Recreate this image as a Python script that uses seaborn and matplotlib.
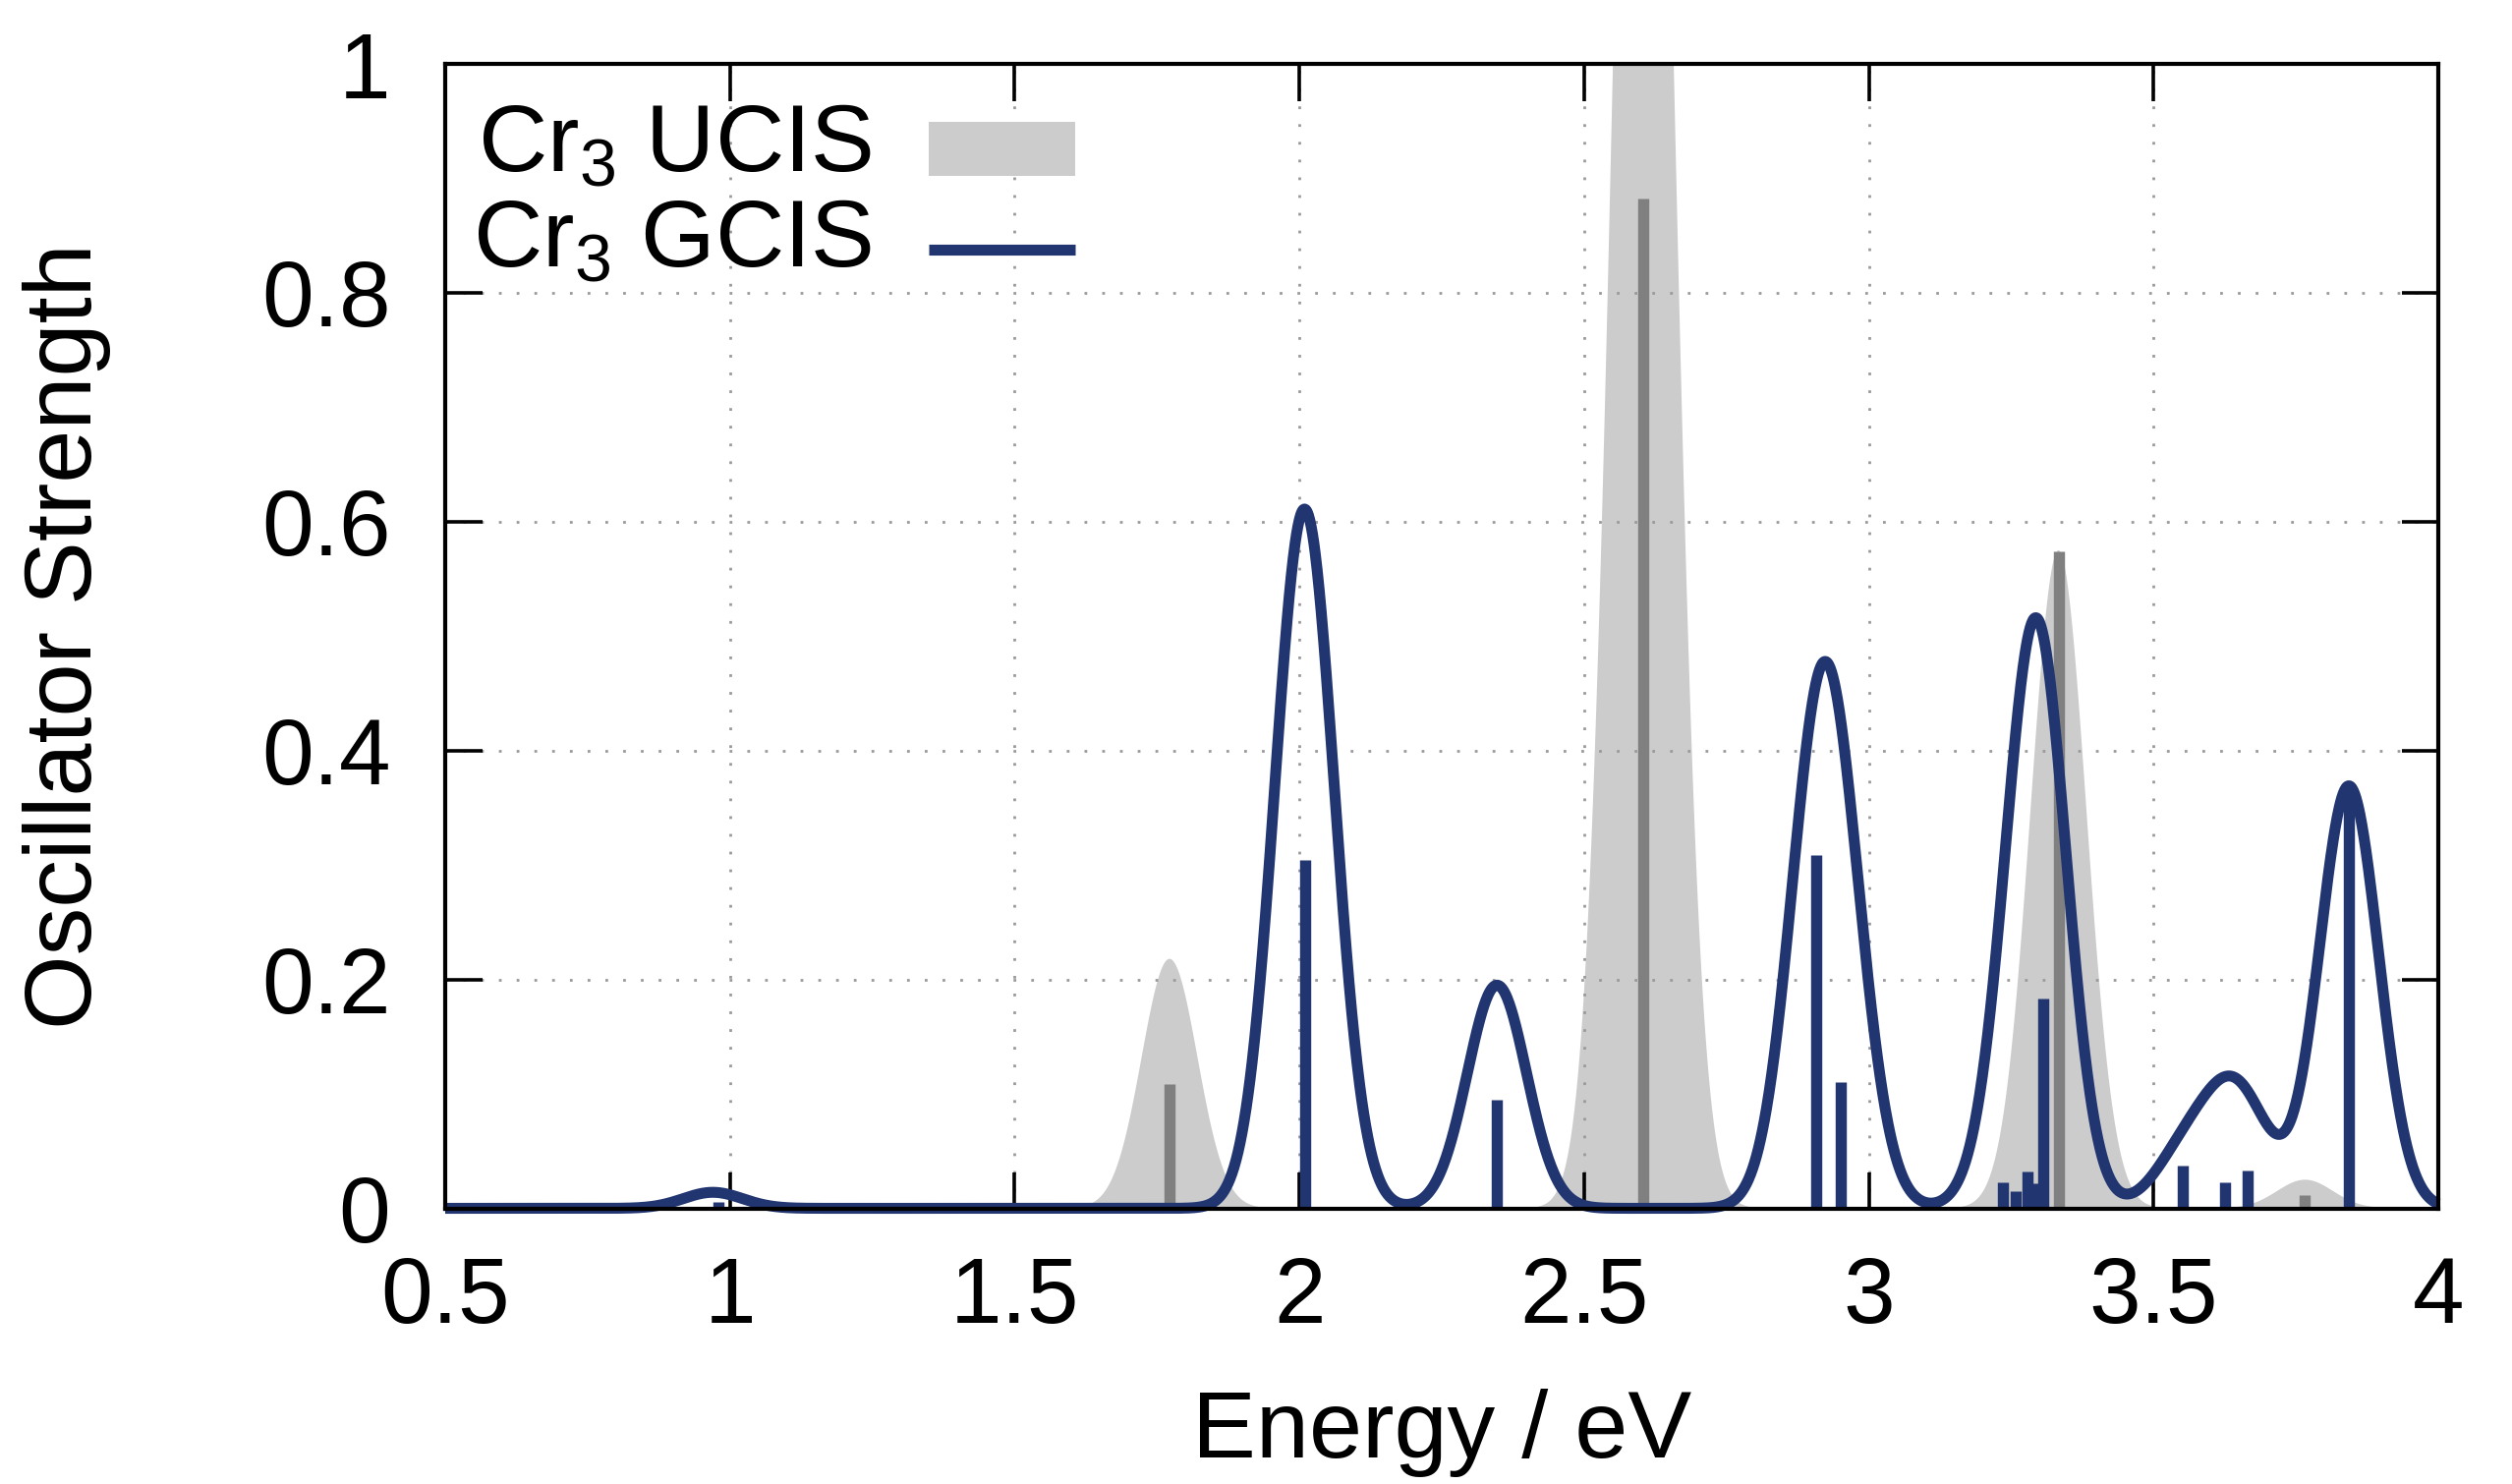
import numpy as np
import matplotlib
matplotlib.use("Agg")
import matplotlib.pyplot as plt
import seaborn as sns
from matplotlib.patches import Patch, Rectangle
from matplotlib.lines import Line2D
from matplotlib.legend_handler import HandlerPatch, HandlerLine2D

# ---------------- data ----------------
x_ticks = [0.5, 1, 1.5, 2, 2.5, 3, 3.5, 4]
x_tick_labels = ["0.5", "1", "1.5", "2", "2.5", "3", "3.5", "4"]
y_ticks = [0, 0.2, 0.4, 0.6, 0.8, 1]
y_tick_labels = ["0", "0.2", "0.4", "0.6", "0.8", "1"]

# UCIS: stick transitions (energy eV, oscillator strength)
ucis_stick_E = [1.772, 2.604, 3.333, 3.766]
ucis_stick_f = [0.1086, 0.882, 0.574, 0.012]
# UCIS broadened band components (centre, peak height) and gaussian width
ucis_band_E = [1.772, 2.604, 3.333, 3.766]
ucis_band_A = [0.218, 1.81, 0.575, 0.025]
ucis_band_sigma = 0.049

# GCIS: stick transitions
gcis_stick_E = [0.979, 2.010, 2.347, 2.907, 2.951, 3.236, 3.258, 3.278,
                3.292, 3.307, 3.551, 3.626, 3.666, 3.843]
gcis_stick_f = [0.006, 0.3045, 0.095, 0.309, 0.110, 0.023, 0.015, 0.032,
                0.022, 0.183, 0.037, 0.023, 0.033, 0.365]
# GCIS broadened curve components
gcis_band_E = [0.97, 2.009, 2.347, 2.907, 2.951, 3.236, 3.295, 3.551,
               3.626, 3.666, 3.843]
gcis_band_A = [0.014, 0.611, 0.195, 0.316, 0.204, 0.03, 0.50, 0.043,
               0.062, 0.051, 0.369]
gcis_band_sigma = 0.052

labels = ["Cr$_3$ UCIS", "Cr$_3$ GCIS"]
x_label = "Energy / eV"
y_label = "Oscillator Strength"

# ---------------- style ----------------
sns.set_theme(style="white")
plt.rcParams["font.family"] = ["Liberation Sans", "DejaVu Sans"]
plt.rcParams["mathtext.fontset"] = "custom"
plt.rcParams["mathtext.rm"] = "Liberation Sans"
plt.rcParams["mathtext.it"] = "Liberation Sans:italic"
plt.rcParams["mathtext.bf"] = "Liberation Sans:bold"
plt.rcParams["text.color"] = "black"
plt.rcParams["axes.labelcolor"] = "black"

blue = "#213571"
gray_fill = "#cccccc"
gray_stick = "#808080"

W, H = 2556, 1510
dpi = 200
fig = plt.figure(figsize=(W / dpi, H / dpi), dpi=dpi)
ax = fig.add_axes([453 / W, (H - 1229.5) / H, 2028 / W, 1164.5 / H])

xgrid = np.linspace(0.5, 4.0, 3000)


def broaden(E, A, s):
    y = np.zeros_like(xgrid)
    for e, a in zip(E, A):
        y += a * np.exp(-(xgrid - e) ** 2 / (2 * s * s))
    return y


ucis_curve = broaden(ucis_band_E, ucis_band_A, ucis_band_sigma)
gcis_curve = broaden(gcis_band_E, gcis_band_A, gcis_band_sigma)

# UCIS band
ax.fill_between(xgrid, 0, ucis_curve, color=gray_fill, linewidth=0, zorder=1)
# sticks
ax.vlines(ucis_stick_E, 0, ucis_stick_f, colors=gray_stick, linewidth=4.1, zorder=2)
ax.vlines(gcis_stick_E, 0, gcis_stick_f, colors=blue, linewidth=4.1, zorder=2)
# GCIS curve
sns.lineplot(x=xgrid, y=gcis_curve, ax=ax, color=blue, linewidth=4.0, zorder=2.3)
ln = ax.lines[-1]
ln.set_clip_on(False)
ln.set_solid_capstyle("butt")

ax.set_xlim(0.5, 4)
ax.set_ylim(0, 1)
ax.set_xticks(x_ticks)
ax.set_xticklabels(x_tick_labels)
ax.set_yticks(y_ticks)
ax.set_yticklabels(y_tick_labels)

ax.set_axisbelow("line")
ax.grid(True, color="#9a9a9a", linestyle=(0, (1, 5.5)), linewidth=1.0)

for sp in ax.spines.values():
    sp.set_visible(True)
    sp.set_color("black")
    sp.set_linewidth(1.5)
    sp.set_zorder(3)

ax.tick_params(axis="both", which="major", direction="in", length=13.5, width=1.3,
               colors="black", top=True, right=True, bottom=True, left=True,
               labelsize=34)
ax.tick_params(axis="x", pad=17)
ax.tick_params(axis="y", pad=20)

ax.set_xlabel(x_label, fontsize=35, color="black")
ax.set_ylabel(y_label, fontsize=35, color="black")
ax.xaxis.set_label_coords(0.5, -0.158)
ax.yaxis.set_label_coords(-0.1675, 0.5)


# legend handlers shifted slightly downward (as in the reference)
def rect_func(legend, orig_handle, xdescent, ydescent, width, height, fontsize):
    return Rectangle((-xdescent, -ydescent - 0.115 * fontsize), width, height)


class ShiftedLine(HandlerLine2D):
    def create_artists(self, legend, orig_handle, xdescent, ydescent, width,
                       height, fontsize, trans):
        arts = super().create_artists(legend, orig_handle, xdescent, ydescent,
                                      width, height, fontsize, trans)
        for a in arts:
            if isinstance(a, Line2D):
                a.set_ydata(np.asarray(a.get_ydata(), dtype=float) - 0.14 * fontsize)
        return arts


handles = [Patch(facecolor=gray_fill, edgecolor="none"),
           Line2D([0], [0], color=blue, linewidth=4.0, solid_capstyle="butt")]
leg = ax.legend(handles, labels, loc="upper left", bbox_to_anchor=(0.0136, 0.966),
                frameon=False, markerfirst=False, fontsize=35, handlelength=1.53,
                handleheight=0.5, handletextpad=0.6, labelspacing=0.07,
                borderpad=0, borderaxespad=0, labelcolor="black",
                handler_map={Patch: HandlerPatch(patch_func=rect_func),
                             Line2D: ShiftedLine()})
leg.set_zorder(5)

fig.savefig("out.png", dpi=dpi, facecolor="white")
